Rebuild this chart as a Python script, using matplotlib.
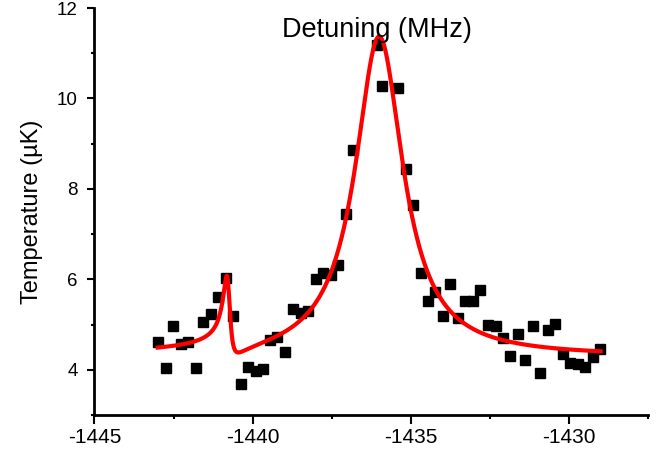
import matplotlib
matplotlib.use('Agg')
import matplotlib.pyplot as plt
import numpy as np
from matplotlib.ticker import MultipleLocator

plt.rcParams['font.family'] = ['Liberation Sans', 'DejaVu Sans']
plt.rcParams['axes.unicode_minus'] = False

# measured temperature vs detuning
detuning = [-1442.98, -1442.74, -1442.52, -1442.27, -1442.03, -1441.79, -1441.56,
            -1441.33, -1441.10, -1440.84, -1440.61, -1440.38, -1440.14, -1439.89,
            -1439.66, -1439.45, -1439.24, -1438.97, -1438.71, -1438.48, -1438.24,
            -1438.01, -1437.77, -1437.52, -1437.29, -1437.06, -1436.84, -1436.08,
            -1435.92, -1435.40, -1435.15, -1434.93, -1434.69, -1434.46, -1434.23,
            -1433.98, -1433.76, -1433.52, -1433.28, -1433.03, -1432.81, -1432.56,
            -1432.32, -1432.09, -1431.85, -1431.62, -1431.38, -1431.15, -1430.91,
            -1430.67, -1430.43, -1430.20, -1429.97, -1429.72, -1429.48, -1429.25,
            -1429.02]
temperature = [4.61, 4.05, 4.96, 4.56, 4.61, 4.05, 5.06,
               5.23, 5.61, 6.04, 5.20, 3.69, 4.07, 3.98,
               4.02, 4.66, 4.73, 4.39, 5.34, 5.25, 5.29,
               6.00, 6.15, 6.09, 6.31, 7.44, 8.86, 11.18,
               10.28, 10.24, 8.43, 7.64, 6.15, 5.52, 5.72,
               5.20, 5.90, 5.14, 5.53, 5.53, 5.76, 4.99,
               4.97, 4.71, 4.30, 4.79, 4.21, 4.96, 3.93,
               4.89, 5.01, 4.34, 4.16, 4.13, 4.07, 4.28,
               4.45]

# fit: Lorentzian + Fano resonance on a constant background
baseline = 4.3
lor_center, lor_amp, lor_hwhm = -1436.0, 7.1, 0.92
fano_center, fano_amp, fano_width, fano_q = -1440.77, 0.21, 0.13, -2.7
fit_range = (-1443.0, -1429.0)


def fit_model(x):
    lor = lor_amp / (1 + ((x - lor_center) / lor_hwhm) ** 2)
    eps = (x - fano_center) / fano_width
    fano = fano_amp * ((fano_q + eps) ** 2 / (1 + eps ** 2) - 1)
    return baseline + lor + fano


fig = plt.figure(figsize=(6.62, 4.5), dpi=100)
ax = fig.add_axes([0.1427, 0.0778, 0.8362, 0.9044])

ax.plot(detuning, temperature, 's', color='black', markersize=6.5, zorder=2)
xf = np.linspace(fit_range[0], fit_range[1], 2000)
ax.plot(xf, fit_model(xf), color='#FF0000', linewidth=3, zorder=3)

ax.set_xlim(-1445, -1427.5)
ax.set_ylim(3, 12)
ax.xaxis.set_major_locator(MultipleLocator(5))
ax.xaxis.set_minor_locator(MultipleLocator(2.5))
ax.yaxis.set_minor_locator(MultipleLocator(1))
ax.set_yticks([4, 6, 8, 10, 12])

for side in ['top', 'right']:
    ax.spines[side].set_visible(False)
for side in ['left', 'bottom']:
    ax.spines[side].set_linewidth(2)

ax.tick_params(axis='x', which='major', direction='out', length=6.5, width=1.5,
               labelsize=15, pad=3)
ax.tick_params(axis='x', which='minor', direction='out', length=3, width=1.5)
ax.tick_params(axis='y', which='major', direction='out', length=5, width=1.5,
               labelsize=13.5, pad=7)
ax.tick_params(axis='y', which='minor', direction='out', length=2.5, width=1.5)

ax.set_ylabel('Temperature (µK)', fontsize=17, labelpad=10)
fig.text(377 / 662, 1 - 30 / 450, 'Detuning (MHz)', fontsize=19.5,
         ha='center', va='center')

fig.savefig('out.png', dpi=100, facecolor='white')
